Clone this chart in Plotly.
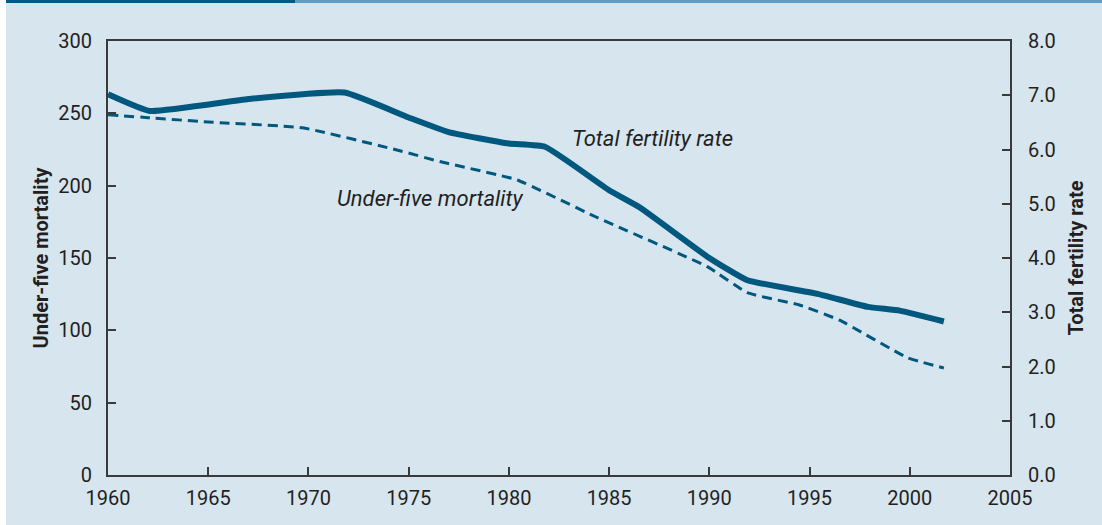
import plotly.graph_objects as go

# Total fertility rate (right axis)
tfr_years = [1960, 1962.1, 1967, 1971.8, 1975, 1977, 1980, 1981.8, 1985, 1986.5,
             1990, 1991.9, 1995.4, 1997.9, 1999.5, 2001.7]
tfr_values = [7.02, 6.71, 6.93, 7.05, 6.59, 6.32, 6.11, 6.05, 5.25, 4.94,
              4.0, 3.59, 3.34, 3.10, 3.03, 2.83]

# Under-five mortality (left axis)
u5_years = [1960, 1962, 1965, 1969.7, 1974.6, 1976.6, 1980.4, 1984.4, 1989.9,
            1991.9, 1994.5, 1996.5, 1999.9, 2001.7]
u5_values = [249, 247, 244, 240, 224, 216.5, 204, 178, 144, 126, 117.5, 107, 81, 74]

x_ticks = [1960, 1965, 1970, 1975, 1980, 1985, 1990, 1995, 2000, 2005]
left_ticks = [0, 50, 100, 150, 200, 250, 300]
right_ticks = [0, 1, 2, 3, 4, 5, 6, 7, 8]

LINE = "#00587f"
BG = "#d7e5ef"
AX = "#3a3a3a"
FONT = "Roboto, DejaVu Sans Condensed, sans-serif"

fig = go.Figure()
fig.add_trace(go.Scatter(x=u5_years, y=u5_values, mode="lines",
                         line=dict(color=LINE, width=3, dash="10px,6px", shape="spline", smoothing=0.4),
                         yaxis="y", showlegend=False))
fig.add_trace(go.Scatter(x=tfr_years, y=tfr_values, mode="lines",
                         line=dict(color=LINE, width=6, shape="spline", smoothing=0.4),
                         yaxis="y2", showlegend=False))

L, R, T, B = 108, 92, 41, 50
W, H = 1102, 525
pw, ph = W - L - R, H - T - B

def px(xp):
    return (xp - L) / pw

def py(yp):
    return (H - B - yp) / ph

shapes = [
    dict(type="rect", xref="paper", yref="paper", x0=px(0), x1=px(6), y0=py(H), y1=py(0),
         fillcolor="white", line_width=0, layer="below"),
    dict(type="rect", xref="paper", yref="paper", x0=px(6), x1=px(295), y0=py(3), y1=py(0),
         fillcolor="#005a87", line_width=0),
    dict(type="rect", xref="paper", yref="paper", x0=px(295), x1=px(W), y0=py(3), y1=py(0),
         fillcolor="#5e9ec4", line_width=0),
]

fig.update_layout(
    width=W, height=H,
    margin=dict(l=L, r=R, t=T, b=B, pad=0),
    paper_bgcolor=BG, plot_bgcolor=BG,
    font=dict(family=FONT, size=20, color="#231f20"),
    shapes=shapes,
    xaxis=dict(range=[1960, 2005], tickvals=x_ticks, ticks="inside", ticklen=8, tickwidth=1.5,
               tickcolor=AX, showline=True, linecolor=AX, linewidth=2, mirror=True,
               showgrid=False, zeroline=False, ticklabelstandoff=4),
    yaxis=dict(range=[0, 300], tickvals=left_ticks, ticks="inside", ticklen=8, tickwidth=1.5,
               tickcolor=AX, showline=True, linecolor=AX, linewidth=2,
               showgrid=False, zeroline=False, ticklabelstandoff=10,
               title=dict(text="<b>Under-five mortality</b>", standoff=4,
                          font=dict(size=20))),
    yaxis2=dict(range=[0, 8], tickvals=right_ticks, tickformat=".1f", overlaying="y", side="right",
                ticks="inside", ticklen=8, tickwidth=1.5, tickcolor=AX,
                showline=True, linecolor=AX, linewidth=2, showgrid=False, zeroline=False,
                ticklabelstandoff=12,
                title=dict(text="<b>Total fertility rate</b>", standoff=14,
                           font=dict(size=20))),
    annotations=[
        dict(x=1987.14, y=232.9, xref="x", yref="y", text="<i>Total fertility rate</i>",
             showarrow=False, font=dict(size=22)),
        dict(x=1976.04, y=191.4, xref="x", yref="y", text="<i>Under-five mortality</i>",
             showarrow=False, font=dict(size=22)),
    ],
)

fig.write_html("out.html", config={"displayModeBar": False},
               post_script="document.body.style.margin='0px';")
